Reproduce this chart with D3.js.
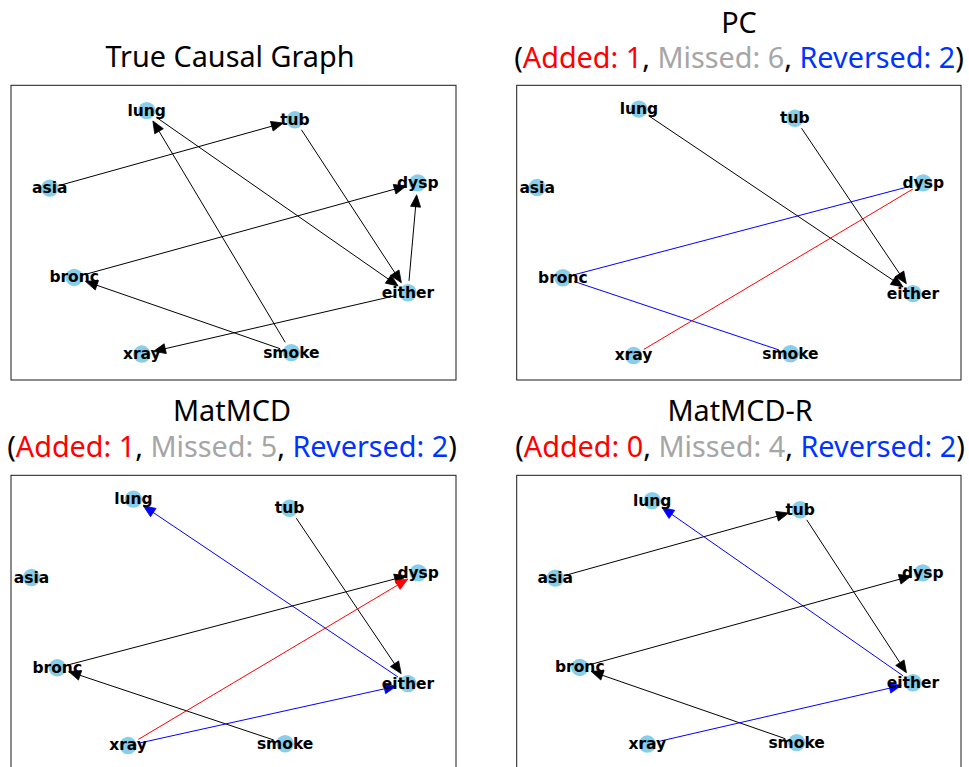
<!DOCTYPE html>
<html>
<head>
<meta charset="utf-8">
<script src="https://cdn.jsdelivr.net/npm/d3@7"></script>
<style>
  html, body { margin: 0; padding: 0; background: #fff; }
  svg { display: block; }
</style>
</head>
<body>
<script>
// ---------- data ----------
const nodeNames = ["lung", "tub", "asia", "dysp", "bronc", "either", "xray", "smoke"];

// layout coordinates (fraction of plot box, x to the right, y downward)
const layoutAx = [0.305, 0.638, 0.087, 0.914, 0.142, 0.892, 0.294, 0.630];
const layoutAy = [0.086, 0.117, 0.349, 0.331, 0.652, 0.704, 0.912, 0.907];
const layoutBx = [0.275, 0.626, 0.046, 0.915, 0.104, 0.892, 0.263, 0.616];
const layoutBy = [0.081, 0.112, 0.347, 0.331, 0.653, 0.707, 0.917, 0.911];

const panelTitles = ["True Causal Graph", "PC", "MatMCD", "MatMCD-R"];
const panelLayouts = ["A", "B", "B", "A"];
const addedCounts = [null, 1, 1, 0];
const missedCounts = [null, 6, 5, 4];
const reversedCounts = [null, 2, 2, 2];

// edges: [source, target, kind, directed]
const edgesTrue = [
  ["asia", "tub", "correct", true],
  ["lung", "either", "correct", true],
  ["smoke", "lung", "correct", true],
  ["tub", "either", "correct", true],
  ["either", "dysp", "correct", true],
  ["bronc", "dysp", "correct", true],
  ["smoke", "bronc", "correct", true],
  ["either", "xray", "correct", true]
];
const edgesPC = [
  ["lung", "either", "correct", true],
  ["tub", "either", "correct", true],
  ["bronc", "dysp", "reversed", false],
  ["bronc", "smoke", "reversed", false],
  ["xray", "dysp", "added", false]
];
const edgesMatMCD = [
  ["tub", "either", "correct", true],
  ["either", "lung", "reversed", true],
  ["bronc", "dysp", "correct", true],
  ["smoke", "bronc", "correct", true],
  ["xray", "either", "reversed", true],
  ["xray", "dysp", "added", true]
];
const edgesMatMCDR = [
  ["asia", "tub", "correct", true],
  ["either", "lung", "reversed", true],
  ["tub", "either", "correct", true],
  ["bronc", "dysp", "correct", true],
  ["smoke", "bronc", "correct", true],
  ["xray", "either", "reversed", true]
];
const panelEdges = [edgesTrue, edgesPC, edgesMatMCD, edgesMatMCDR];

// ---------- styles ----------
const W = 969, H = 767;
const kindColor = { correct: "#000000", added: "#ff0000", reversed: "#0000ff" };
const textRed = "#ff0000", textGray = "#a6a6a6", textBlue = "#0033ff";
const boxes = [
  { x0: 11,    x1: 456, y0: 85.3,  y1: 380,  cx: 230 },
  { x0: 516.7, x1: 961, y0: 85.3,  y1: 380,  cx: 739 },
  { x0: 11,    x1: 456, y0: 475.3, y1: 770,  cx: 232 },
  { x0: 516.7, x1: 961, y0: 475.3, y1: 770,  cx: 740 }
];
const titleY = [66.7, 32.7, 421, 421];
const subY = [null, 68.3, 456.7, 456.7];
const nodeR = 8.7;
const shrink = 12;
const headLen = 12, headHalf = 5;
const titleFont = "'Noto Sans', 'Open Sans', sans-serif";
const titleSize = 28.8;

const svg = d3.select("body").append("svg").attr("width", W).attr("height", H);

panelTitles.forEach((title, i) => {
  const b = boxes[i];
  const lx = panelLayouts[i] === "A" ? layoutAx : layoutBx;
  const ly = panelLayouts[i] === "A" ? layoutAy : layoutBy;
  const xs = d3.scaleLinear().domain([0, 1]).range([b.x0, b.x1]);
  const ys = d3.scaleLinear().domain([0, 1]).range([b.y0, b.y1]);
  const pos = {};
  nodeNames.forEach((n, k) => { pos[n] = [xs(lx[k]), ys(ly[k])]; });

  const g = svg.append("g");

  // frame
  g.append("rect")
    .attr("x", b.x0).attr("y", b.y0)
    .attr("width", b.x1 - b.x0).attr("height", b.y1 - b.y0)
    .attr("fill", "none").attr("stroke", "#1a1a1a").attr("stroke-width", 1);

  // titles
  g.append("text")
    .attr("x", b.cx).attr("y", titleY[i])
    .attr("text-anchor", "middle")
    .attr("font-family", titleFont).attr("font-size", titleSize)
    .attr("fill", "#000")
    .text(title);

  if (addedCounts[i] !== null) {
    const t = g.append("text")
      .attr("x", b.cx).attr("y", subY[i])
      .attr("text-anchor", "middle")
      .attr("font-family", titleFont).attr("font-size", titleSize)
      .attr("fill", "#000");
    t.append("tspan").text("(");
    t.append("tspan").attr("fill", textRed).text("Added: " + addedCounts[i]);
    t.append("tspan").text(", ");
    t.append("tspan").attr("fill", textGray).text("Missed: " + missedCounts[i]);
    t.append("tspan").text(", ");
    t.append("tspan").attr("fill", textBlue).text("Reversed: " + reversedCounts[i]);
    t.append("tspan").text(")");
  }

  // edges
  const eg = g.append("g");
  panelEdges[i].forEach(([s, t, kind, directed]) => {
    const [sx, sy] = pos[s], [tx, ty] = pos[t];
    const dx = tx - sx, dy = ty - sy;
    const len = Math.hypot(dx, dy);
    const ux = dx / len, uy = dy / len;
    const ax = sx + ux * shrink, ay = sy + uy * shrink;
    const bx = tx - ux * shrink, by = ty - uy * shrink;
    const col = kindColor[kind];
    if (directed) {
      const hx = bx - ux * headLen, hy = by - uy * headLen;
      eg.append("line")
        .attr("x1", ax).attr("y1", ay).attr("x2", hx + ux * 1).attr("y2", hy + uy * 1)
        .attr("stroke", col).attr("stroke-width", 1);
      const px = -uy, py = ux;
      const pts = [
        [bx, by],
        [hx + px * headHalf, hy + py * headHalf],
        [hx - px * headHalf, hy - py * headHalf]
      ];
      eg.append("path")
        .attr("d", d3.line()(pts) + "Z")
        .attr("fill", col).attr("stroke", col).attr("stroke-width", 0.8)
        .attr("stroke-linejoin", "miter");
    } else {
      eg.append("line")
        .attr("x1", ax).attr("y1", ay).attr("x2", bx).attr("y2", by)
        .attr("stroke", col).attr("stroke-width", 1);
    }
  });

  // nodes
  g.append("g").selectAll("circle")
    .data(nodeNames)
    .join("circle")
    .attr("cx", d => pos[d][0]).attr("cy", d => pos[d][1])
    .attr("r", nodeR)
    .attr("fill", "#87ceeb");

  // labels
  g.append("g").selectAll("text")
    .data(nodeNames)
    .join("text")
    .attr("x", d => pos[d][0]).attr("y", d => pos[d][1])
    .attr("dy", "0.32em")
    .attr("text-anchor", "middle")
    .attr("font-family", "'DejaVu Sans', sans-serif")
    .attr("font-weight", "bold")
    .attr("font-size", 15.5)
    .attr("fill", "#000")
    .text(d => d);
});
</script>
</body>
</html>
